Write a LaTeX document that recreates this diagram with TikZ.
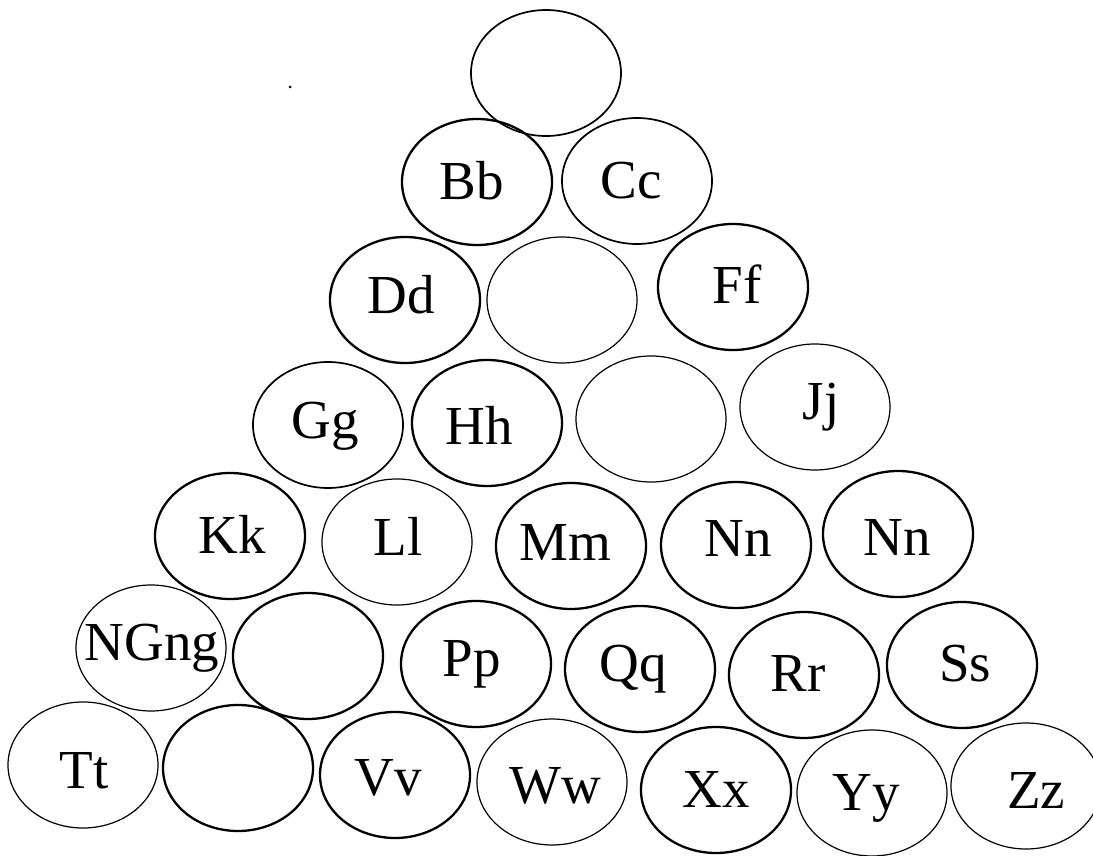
\documentclass[tikz,border=0pt]{standalone}
\usepackage{fontspec}
\setmainfont{Liberation Serif}
\usetikzlibrary{shapes.geometric}
\begin{document}
\begin{tikzpicture}[x=1pt,y=-1pt,
  cell/.style={draw, ellipse, minimum width=150pt, minimum height=126pt, inner sep=0pt, line width=1.7pt},
  thk/.style={line width=2.3pt},
  thn/.style={line width=1.2pt},
  lab/.style={font=\fontsize{55}{60}\selectfont, inner sep=0pt, text height=36pt, text depth=0pt}]
\useasboundingbox (0,0) rectangle (1093,856);
% row 1
\node[cell] (a1) at (546,73) {};
% row 2
\node[cell,thk] (bb) at (477,182) {};
\node[lab] (tbb) at (472,182) {Bb};
\node[cell] (cc) at (637,181) {};
\node[lab] (tcc) at (631,181) {Cc};
% row 3
\node[cell,thk] (dd) at (405,300) {};
\node[lab] (tdd) at (401,295) {Dd};
\node[cell,thn] (e3) at (562,300) {};
\node[cell,thk] (ff) at (733,287) {};
\node[lab] (tff) at (737,285) {Ff};
% row 4
\node[cell] (gg) at (328,425) {};
\node[lab] (tgg) at (325,420) {Gg};
\node[cell,thk] (hh) at (487,423) {};
\node[lab] (thh) at (479,426) {Hh};
\node[cell,thn] (e4) at (651,419) {};
\node[cell,thn] (jj) at (815,407) {};
\node[lab] (tjj) at (821,401) {Jj};
% row 5
\node[cell,thk] (kk) at (230,536) {};
\node[lab] (tkk) at (232,535) {Kk};
\node[cell,thn] (ll) at (397,542) {};
\node[lab] (tll) at (398,537) {Ll};
\node[cell,thk] (mm) at (571,546) {};
\node[lab] (tmm) at (565,542) {Mm};
\node[cell,thk] (nn1) at (736,545) {};
\node[lab] (tnn1) at (738,538) {Nn};
\node[cell,thk] (nn2) at (898,534) {};
\node[lab] (tnn2) at (897,537) {Nn};
% row 6
\node[cell,thn] (ng) at (151,648) {};
\node[lab] (tng) at (152,642) {NGng};
\node[cell,thk] (e6) at (308,656) {};
\node[cell,thk] (pp) at (476,664) {};
\node[lab] (tpp) at (472,658) {Pp};
\node[cell,thk] (qq) at (640,669) {};
\node[lab] (tqq) at (633,663) {Qq};
\node[cell,thk] (rr) at (804,675) {};
\node[lab] (trr) at (798,673) {Rr};
\node[cell,thk] (ss) at (962,665) {};
\node[lab] (tss) at (965,663) {Ss};
% row 7
\node[cell,thn] (tt) at (83,765) {};
\node[lab] (ttt) at (84,770) {Tt};
\node[cell,thk] (e7) at (238,768) {};
\node[cell,thk] (vv) at (395,775) {};
\node[lab] (tvv) at (388,777) {Vv};
\node[cell,thn] (ww) at (552,782) {};
\node[lab] (tww) at (555,785) {Ww};
\node[cell,thk] (xx) at (716,790) {};
\node[lab] (txx) at (716,789) {Xx};
\node[cell,thn] (yy) at (872,793) {};
\node[lab] (tyy) at (866,792) {Yy};
\node[cell,thn] (zz) at (1026,786) {};
\node[lab] (tzz) at (1036,790) {Zz};
% stray dot
\fill (290,87) circle (1.5pt);
\end{tikzpicture}
\end{document}
